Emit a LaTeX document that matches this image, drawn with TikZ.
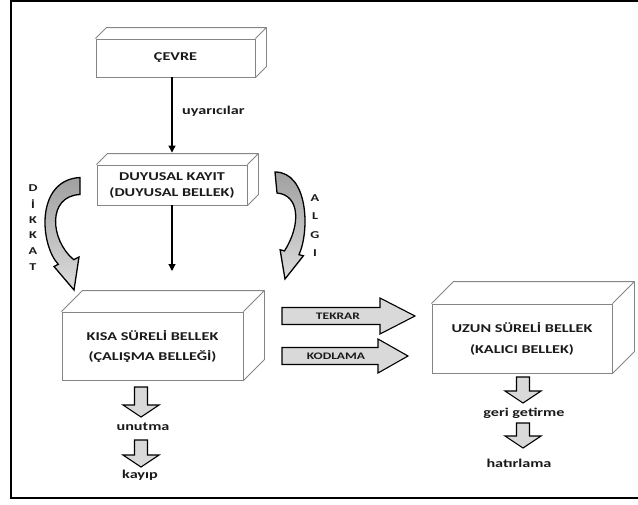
\documentclass[tikz,border=0pt]{standalone}
\usepackage{fontspec}
\newfontfamily\lbl{Carlito}[FakeStretch=1.35]
\usetikzlibrary{calc,arrows.meta}
\definecolor{boxgray}{HTML}{858585}
\definecolor{txt}{HTML}{1A1A1A}
\definecolor{blkfill}{HTML}{D9D9D9}
\definecolor{darkg}{HTML}{A0A0A0}
\definecolor{lightg}{HTML}{DCDCDC}
\newcommand\cubeback[2]{%
  \draw[boxline] (#1.north west) -- ++(#2,-#2) -- ($(#1.north east)+(#2,-#2)$) -- ($(#1.south east)+(#2,-#2)$) -- (#1.south east)
    (#1.north east) -- ($(#1.north east)+(#2,-#2)$);}
\newcommand\dnarrow[3]{%
  \draw[blk] (#1-6.5,#2) -- (#1+6.5,#2) -- (#1+6.5,#3-12) -- (#1+18,#3-12) -- (#1,#3) -- (#1-18,#3-12) -- (#1-6.5,#3-12) -- cycle;}
\begin{document}
\begin{tikzpicture}[x=1pt,y=-1pt,
  box/.style={draw=boxgray, line width=0.9pt, fill=white, inner sep=0pt, align=center, text=txt,
    font=\lbl\bfseries\fontsize{12}{16}\selectfont},
  boxline/.style={draw=boxgray, line width=0.9pt, line join=round},
  blk/.style={draw=black, line width=1.1pt, fill=blkfill, line join=miter},
  lab/.style={inner sep=0pt, text=txt, font=\lbl\bfseries\fontsize{12}{14}\selectfont},
  smalllab/.style={inner sep=0pt, text=txt, font=\lbl\bfseries\fontsize{10}{12}\selectfont},
  vlet/.style={inner sep=0pt, text=txt, font=\lbl\bfseries\fontsize{10.5}{12}\selectfont},
  arr/.style={line width=1.2pt, -{Triangle[length=7pt,width=7pt]}},
  curv/.style={draw=black, line width=1.3pt, line join=miter, top color=darkg, middle color=gray!70!white, bottom color=lightg}]
\useasboundingbox (0,0) rectangle (638,504);
\draw[line width=2pt] (638,1) -- (11,1) -- (11,498) -- (638,498);

% boxes
\node[box, minimum width=159pt, minimum height=38pt] (cevre) at (175.5,58) {ÇEVRE};
\cubeback{cevre}{11}
\node[box, minimum width=150pt, minimum height=40pt] (duy) at (172,185) {DUYUSAL KAYIT\\(DUYUSAL BELLEK)};
\cubeback{duy}{11}
\node[box, minimum width=181pt, minimum height=68pt, font=\lbl\bfseries\fontsize{12}{20}\selectfont] (kisa) at (152.5,346) {KISA SÜRELİ BELLEK\\(ÇALIŞMA BELLEĞİ)};
\cubeback{kisa}{21}
\node[box, minimum width=180pt, minimum height=69pt, font=\lbl\bfseries\fontsize{12}{21}\selectfont] (uzun) at (522,338.5) {UZUN SÜRELİ BELLEK\\(KALICI BELLEK)};
\cubeback{uzun}{22}

% straight arrows
\coordinate (duytop) at ($(duy.north)+(0,-12)$);
\draw[arr] (cevre.south -| duy.north) -- (duytop);
\node[lab, anchor=west] (uyar) at (182,111) {uyarıcılar};
\coordinate (kisatop) at (172,271);
\draw[arr] (duy.south) -- (kisatop);

% curved arrows
\shadedraw[curv] (80,177.5) .. controls (35,180) and (40,245) .. (58.3,264.3) -- (54,266.5) -- (74,290) -- (79,257) -- (73.7,259.7) .. controls (50,240) and (47,196) .. (80,194.5) -- cycle;
\shadedraw[curv] (275,172) .. controls (308,172) and (310,230) .. (299,254.7) -- (303.4,255.8) -- (285,279) -- (280.1,249.8) -- (284.5,250.9) .. controls (301,225) and (300,195) .. (277,193) -- cycle;
\foreach \c [count=\i] in {D,İ,K,K,A,T}
  \node[vlet] (dk\i) at (33,188+15.8*\i-15.8) {\c};
\foreach \c [count=\i] in {A,L,G,I}
  \node[vlet] (al\i) at (315,198+18.5*\i-18.5) {\c};

% block arrows
\draw[blk] (282,307.5) -- (380,307.5) -- (380,298) -- (415,316) -- (380,334) -- (380,324.5) -- (282,324.5) -- cycle;
\node[smalllab] (tekrar) at (338,316) {TEKRAR};
\draw[blk] (282,347.5) -- (378,347.5) -- (378,339) -- (408,356) -- (378,373) -- (378,364.5) -- (282,364.5) -- cycle;
\node[smalllab] (kodlama) at (336,356) {KODLAMA};

\dnarrow{141}{387}{417}
\node[lab] (unutma) at (143,427) {unutma};
\dnarrow{141}{440}{467}
\node[lab] (kayip) at (140,475) {kayıp};
\dnarrow{523}{377}{403}
\node[lab] (geri) at (524,413) {geri getirme};
\dnarrow{523}{423}{448}
\node[lab] (hatir) at (519,463) {hatırlama};
\end{tikzpicture}
\end{document}
